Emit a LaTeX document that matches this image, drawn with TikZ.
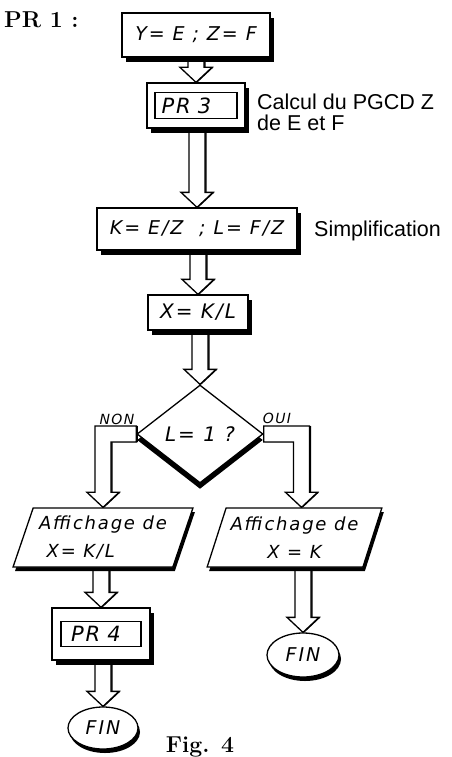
\documentclass[tikz,border=0pt]{standalone}
\usepackage{fontspec}
\setsansfont{Liberation Sans}
\newfontfamily\handfont{DejaVu Sans}[LetterSpace=10]
\usetikzlibrary{shapes.geometric, shadows, backgrounds, calc}

% hollow flowchart arrow: #1 start, #2 tip (same x)
\newcommand{\flowarrow}[2]{%
  \draw[flow] ($(#1)+(-8,0)$) -- ($(#2)+(-8,-15)$) -- ($(#2)+(-16,-15)$) -- (#2)
    -- ($(#2)+(16,-15)$) -- ($(#2)+(8,-15)$) -- ($(#1)+(8,0)$) -- cycle;}

\begin{document}
\begin{tikzpicture}[x=1pt, y=-1pt,
    hand/.style={font=\handfont\itshape\fontsize{#1}{#1}\selectfont},
    hand/.default=19,
    proc/.style={rectangle, draw, line width=1.3pt, fill=white, inner sep=0pt, hand,
      drop shadow={shadow xshift=4pt, shadow yshift=-5pt, fill=black, opacity=1}},
    sub/.style={rectangle, draw, line width=1.3pt, fill=white, inner sep=0pt, hand=21, align=left},
    test/.style={diamond, draw, line width=1.3pt, fill=white, inner sep=0pt, hand=20,
      drop shadow={shadow xshift=0pt, shadow yshift=-6pt, fill=black, opacity=1}},
    io/.style={trapezium, trapezium left angle=67, trapezium right angle=113, trapezium stretches=true,
      draw, line width=1.3pt, fill=white, inner sep=0pt, hand=18,
      drop shadow={shadow xshift=2pt, shadow yshift=-4pt, fill=black, opacity=1}},
    term/.style={ellipse, draw, line width=1.3pt, fill=white, inner sep=0pt, hand=19,
      drop shadow={shadow xshift=2pt, shadow yshift=-4pt, fill=black, opacity=1}},
    flow/.style={draw, line width=1.3pt, fill=white, line join=miter,
      drop shadow={shadow xshift=1.5pt, shadow yshift=0pt, fill=black, opacity=1}},
    note/.style={font=\sffamily\fontsize{21.5}{21}\selectfont, align=left, anchor=west, inner sep=0pt},
    branch/.style={hand=14},
    title/.style={font=\bfseries\fontsize{23}{26}\selectfont, inner sep=0pt}
]
\useasboundingbox (0,0) rectangle (452,757);

% Titles
\node[title, anchor=west] (pr1) at (4,20) {PR 1 :};
\node[title] (fig) at (200,747) {Fig. 4};

% Main line
\node[proc, minimum width=148pt, minimum height=44pt] (yz) at (196,35) {Y= E ; Z= F};
\node[proc, minimum width=98pt, minimum height=45pt] (pr3) at (196,105.5) {};
\node[sub, minimum width=82pt, minimum height=26pt, text width=69pt] (pr3in) at (pr3.center) {PR 3};
\node[note] (pgcd) at (257,112) {Calcul du PGCD Z\\de E et F};
\node[proc, minimum width=200pt, minimum height=42pt] (kl) at (197,229) {K= E/Z \ ; L= F/Z};
\node[note] (simp) at (314,231) {Simplification};
\node[proc, hand=20, minimum width=100pt, minimum height=35pt] (xk) at (198,312.5) {X= K/L};
\node[test, minimum width=126pt, minimum height=98pt] (eq) at (200,434) {L= 1 ?};
\node[branch] (non) at (117,419) {NON};
\node[branch] (oui) at (277,418) {OUI};

% Branches
\node[io, minimum width=180pt, minimum height=59pt, align=left] (dispL) at (103,537.5) {Affichage de\\[10pt]\ X= K/L};
\node[io, minimum width=175pt, minimum height=59pt, align=center] (dispR) at (294.5,537.5) {Affichage de\\[10pt]X = K};
\node[proc, minimum width=98pt, minimum height=52pt] (pr4) at (101,634) {};
\node[sub, minimum width=80pt, minimum height=25pt, text width=60pt] (pr4in) at (pr4.center) {PR 4};
\node[term, minimum width=70pt, minimum height=42pt] (finL) at (103,728) {FIN};
\node[term, minimum width=72pt, minimum height=44pt] (finR) at (303,655) {FIN};
\coordinate (tipR) at ($(dispR.north)+(7,0)$);

% Connections
\begin{pgfonlayer}{background}
\flowarrow{pr3.north |- yz.south}{pr3.north}
\flowarrow{kl.north |- pr3.south}{kl.north}
\flowarrow{xk.north |- kl.south}{xk.north}
\flowarrow{eq.north |- xk.south}{eq.north}
\flowarrow{pr4.north |- dispL.south}{pr4.north}
\flowarrow{finL.north |- pr4.south}{finL.north}
\flowarrow{finR.north |- dispR.south}{finR.north}
\draw[flow] ($(eq.west)+(0,-8)$) -- ($(dispL.north |- eq.west)+(-8,-8)$) -- ($(dispL.north)+(-8,-15)$)
  -- ($(dispL.north)+(-16,-15)$) -- (dispL.north) -- ($(dispL.north)+(16,-15)$) -- ($(dispL.north)+(8,-15)$)
  -- ($(dispL.north |- eq.west)+(8,8)$) -- ($(eq.west)+(0,8)$) -- cycle;
\draw[flow] ($(eq.east)+(0,-8)$) -- ($(tipR |- eq.east)+(8,-8)$) -- ($(tipR)+(8,-15)$)
  -- ($(tipR)+(16,-15)$) -- (tipR) -- ($(tipR)+(-16,-15)$) -- ($(tipR)+(-8,-15)$)
  -- ($(tipR |- eq.east)+(-8,8)$) -- ($(eq.east)+(0,8)$) -- cycle;
\end{pgfonlayer}
\end{tikzpicture}
\end{document}
